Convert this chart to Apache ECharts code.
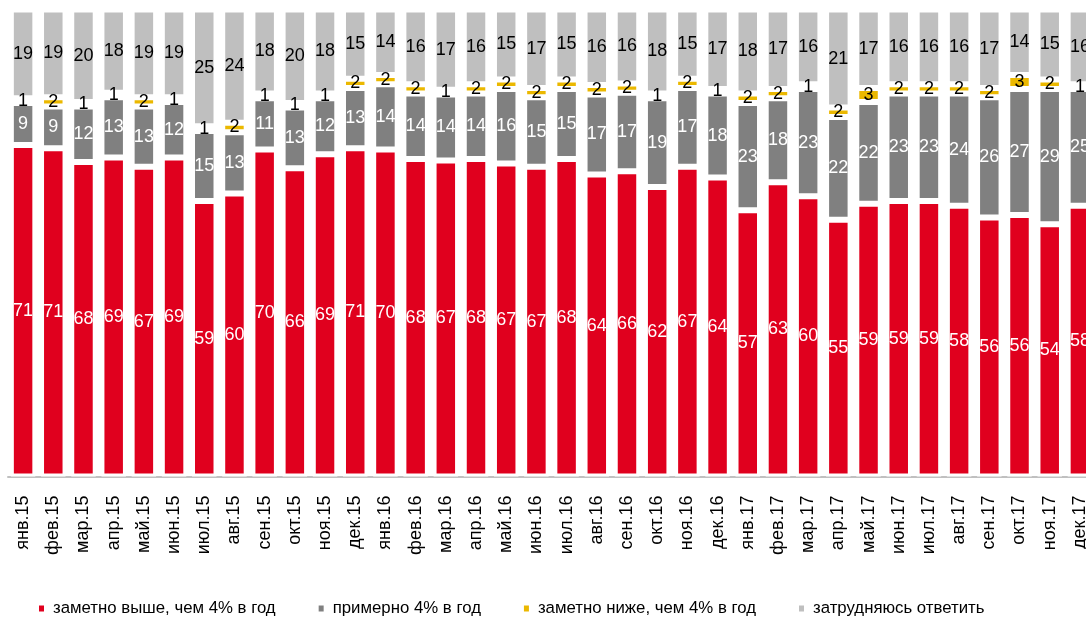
<!DOCTYPE html>
<html><head><meta charset="utf-8">
<script src="https://cdn.jsdelivr.net/npm/echarts@6/dist/echarts.min.js"></script>
<style>html,body{margin:0;padding:0;background:#fff}#c{width:1086px;height:617px}</style>
</head><body><div id="c"></div>
<script>
const categories = ['янв.15','фев.15','мар.15','апр.15','май.15','июн.15','июл.15','авг.15','сен.15','окт.15','ноя.15','дек.15',
  'янв.16','фев.16','мар.16','апр.16','май.16','июн.16','июл.16','авг.16','сен.16','окт.16','ноя.16','дек.16',
  'янв.17','фев.17','мар.17','апр.17','май.17','июн.17','июл.17','авг.17','сен.17','окт.17','ноя.17','дек.17'];
const seriesNames = ['заметно выше, чем 4% в год','примерно 4% в год','заметно ниже, чем 4% в год','затрудняюсь ответить'];
const higher = [71,71,68,69,67,69,59,60,70,66,69,71, 70,68,67,68,67,67,68,64,66,62,67,64, 57,63,60,55,59,59,59,58,56,56,54,58];
const about  = [9,9,12,13,13,12,15,13,11,13,12,13, 14,14,14,14,16,15,15,17,17,19,17,18, 23,18,23,22,22,23,23,24,26,27,29,25];
const lower  = [1,2,1,1,2,1,1,2,1,1,1,2, 2,2,1,2,2,2,2,2,2,1,2,1, 2,2,1,2,3,2,2,2,2,3,2,1];
const unsure = [19,19,20,18,19,19,25,24,18,20,18,15, 14,16,17,16,15,17,15,16,16,18,15,17, 18,17,16,21,17,16,16,16,17,14,15,16];
const colors = ['#e0001e','#808080','#ebb800','#bfbfbf'];
const labelColors = ['#ffffff','#ffffff','#000000','#000000'];

const FONT = '"Liberation Sans",Arial,sans-serif';
const raw = [higher, about, lower, unsure];
const totals = categories.map((_, i) => raw.reduce((s, a) => s + a[i], 0));

const series = raw.map((arr, k) => ({
  name: seriesNames[k],
  type: 'bar',
  stack: 'total',
  barWidth: 24.5,
  itemStyle: { color: colors[k], borderColor: '#ffffff', borderWidth: 3 },
  label: {
    show: true, position: 'inside', color: labelColors[k],
    fontFamily: FONT, fontSize: 18,
    formatter: p => String(p.data.raw)
  },
  data: arr.map((v, i) => ({ value: v / totals[i] * 100, raw: v }))
}));

const chart = echarts.init(document.getElementById('c'), null, { renderer: 'canvas' });
chart.setOption({
  animation: false,
  color: colors,
  grid: { left: 8, width: 1087, top: 9.5, bottom: 140.5, containLabel: false, outerBoundsMode: 'none' },
  xAxis: {
    type: 'category', data: categories, offset: 6,
    axisLine: { lineStyle: { color: '#c0c0c0', width: 2 } },
    axisTick: { length: 4, lineStyle: { color: '#c0c0c0', width: 2 } },
    axisLabel: { rotate: 90, margin: 13, fontSize: 18, color: '#000', fontFamily: FONT, interval: 0 }
  },
  yAxis: { type: 'value', min: 0, max: 100, show: false },
  legend: {
    left: 37, top: 600, padding: 0,
    itemWidth: 7, itemHeight: 8, itemGap: 41,
    icon: 'rect',
    textStyle: { fontFamily: FONT, fontSize: 16.8, color: '#000', padding: [0, 0, 0, 3] },
    data: seriesNames
  },
  series
});
</script>
</body></html>
